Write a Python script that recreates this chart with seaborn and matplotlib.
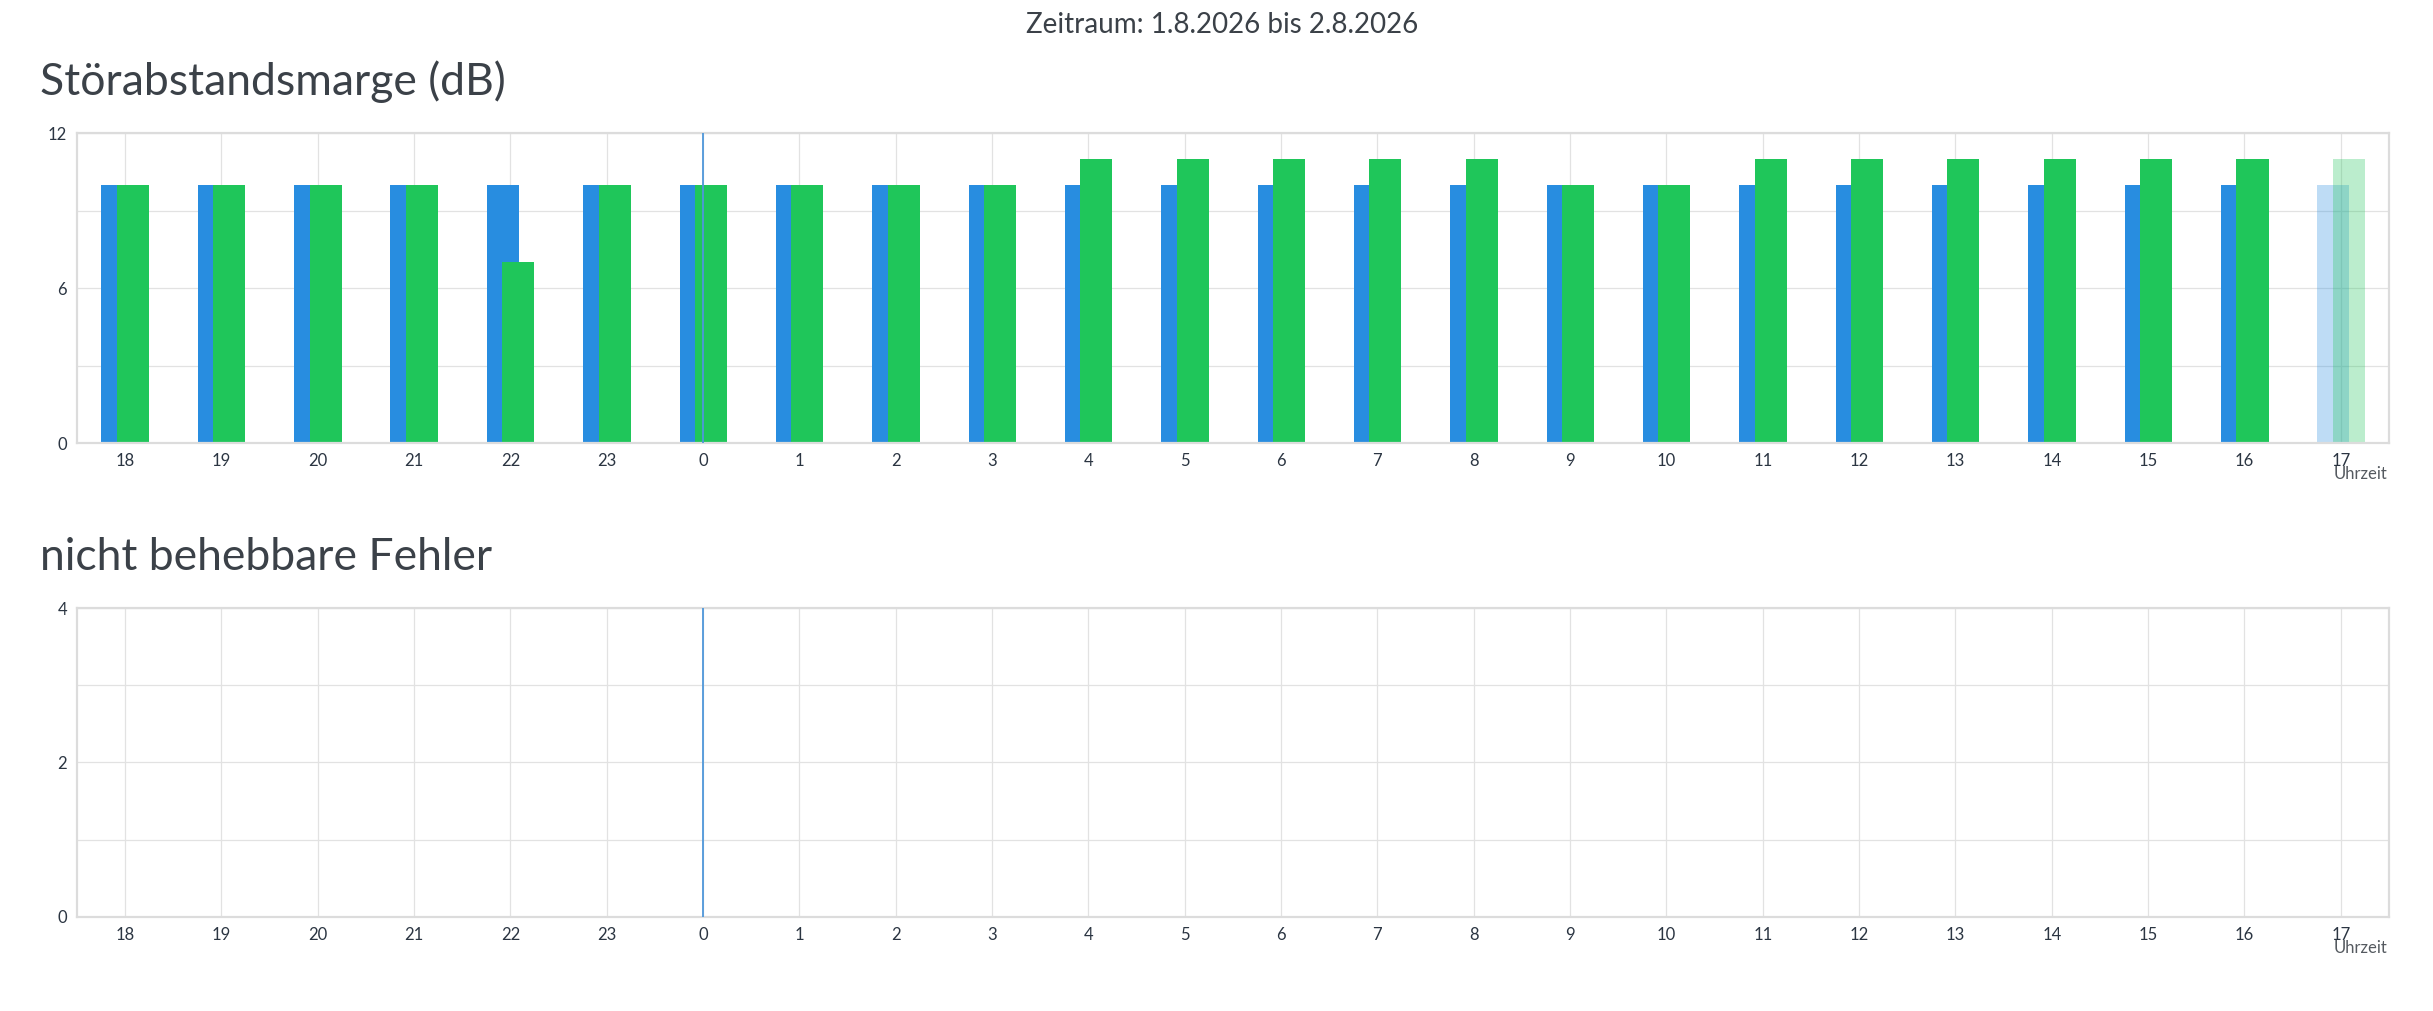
import pandas as pd
import seaborn as sns
import matplotlib.pyplot as plt

# hours of the period, starting at 18:00 on day one
hours = ["18", "19", "20", "21", "22", "23", "0", "1", "2", "3", "4", "5",
         "6", "7", "8", "9", "10", "11", "12", "13", "14", "15", "16", "17"]
snr_down = [10] * 24
snr_up = [10, 10, 10, 10, 7, 10, 10, 10, 10, 10, 11, 11,
          11, 11, 11, 10, 10, 11, 11, 11, 11, 11, 11, 11]
errors = [0] * 24

BLUE = "#288de0"
GREEN = "#1fc65a"
TEXT = "#3b4148"
GRID = "#e2e2e2"


def style_axes(ax, ymax, labeled):
    ax.set_ylim(0, ymax)
    ax.set_xlim(-0.5, len(hours) - 0.5)
    ticks = list(range(0, ymax + 1, ymax // 4))
    ax.set_yticks(ticks)
    ax.set_yticklabels([str(t) if t in labeled else "" for t in ticks])
    ax.grid(True, color=GRID, linewidth=0.9)
    ax.set_axisbelow(True)
    for s in ax.spines.values():
        s.set_visible(True)
        s.set_color("#dcdcdc")
        s.set_linewidth(1.6)
    ax.tick_params(axis="both", length=4, color="#cfcfcf", width=0.9,
                   labelsize=12, labelcolor="#2b3542", pad=3)
    ax.set_xlabel("")
    ax.set_ylabel("")
    # day boundary
    ax.axvline(hours.index("0"), color="#4f97da", linewidth=1.3, zorder=3)
    ax.annotate("Uhrzeit", xy=(1, 0), xycoords="axes fraction",
                xytext=(-2, -31), textcoords="offset pixels",
                ha="right", va="center", fontsize=12, color="#555a60")


sns.set_theme(style="white")
plt.rcParams["font.family"] = ["Lato", "DejaVu Sans"]

fig = plt.figure(figsize=(24.33, 10.11), dpi=100)
ax1 = fig.add_axes([0.0316, 0.5618, 0.9503, 0.3066])
ax2 = fig.add_axes([0.0316, 0.0930, 0.9503, 0.3056])

df = pd.DataFrame({"hour": hours, "down": snr_down, "up": snr_up, "err": errors})

sns.barplot(data=df, x="hour", y="down", order=hours, color=BLUE, width=1 / 3,
            saturation=1, linewidth=0, ax=ax1)
n = len(ax1.patches)
sns.barplot(data=df, x="hour", y="up", order=hours, color=GREEN, width=1 / 3,
            saturation=1, linewidth=0, ax=ax1)
for i, p in enumerate(ax1.patches):
    p.set_x(p.get_x() + (-0.078 if i < n else 0.083))
    if i % n == n - 1:
        # current hour still running
        p.set_alpha(0.3)
style_axes(ax1, 12, [0, 6, 12])

sns.barplot(data=df, x="hour", y="err", order=hours, color=BLUE, width=1 / 3,
            saturation=1, linewidth=0, ax=ax2)
style_axes(ax2, 4, [0, 2, 4])

fig.text(1222 / 2433, 1 - 33 / 1011, "Zeitraum: 1.8.2026 bis 2.8.2026",
         ha="center", va="baseline", fontsize=20, color=TEXT)
fig.text(40 / 2433, 1 - 95 / 1011, "Störabstandsmarge (dB)",
         ha="left", va="baseline", fontsize=32, color=TEXT)
fig.text(40 / 2433, 1 - 570 / 1011, "nicht behebbare Fehler",
         ha="left", va="baseline", fontsize=32, color=TEXT)

fig.savefig("out.png", dpi=100, facecolor="white")
